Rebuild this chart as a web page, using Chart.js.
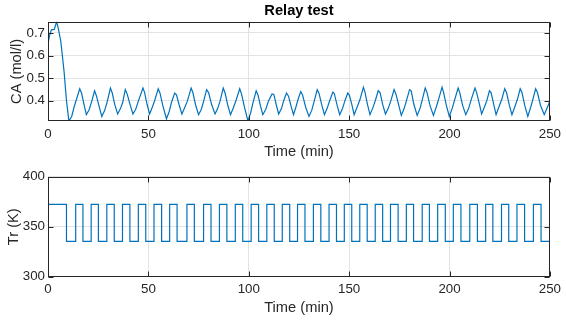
<!DOCTYPE html>
<html>
<head>
<meta charset="utf-8">
<script src="https://cdn.jsdelivr.net/npm/chart.js@4.4.0/dist/chart.umd.min.js"></script>
<style>
  html, body { margin: 0; padding: 0; background: #fff; }
  #wrap { position: relative; width: 566px; height: 324px; }
  canvas { position: absolute; left: 0; }
  #caChart { top: 0; }
  #trChart { top: 165px; }
</style>
</head>
<body>
<div id="wrap">
  <canvas id="caChart" width="566" height="165"></canvas>
  <canvas id="trChart" width="566" height="159"></canvas>
</div>
<script>
const timeTicks = [0, 50, 100, 150, 200, 250];
const caTicks = [0.4, 0.5, 0.6, 0.7];
const trTicks = [300, 350, 400];

// concentration samples, one relay cycle per line
const caTime = [
  0, 0.8, 1.7, 3.1, 4.3, 5.1, 6.4, 8.0, 9.2,
  10.4, 11.8, 13.0, 15.8, 16.7, 17.9,
  19.1, 20.5, 21.7, 23.2, 24.1, 25.3,
  26.8, 28.2, 29.4, 31.1, 32.0, 33.2,
  34.7, 36.1, 37.2, 38.5, 39.5, 40.8,
  42.3, 43.7, 45.0, 47.3, 48.1, 49.4,
  50.6, 51.9, 53.1, 54.9, 55.8, 57.2,
  59.0, 60.3, 61.5, 63.1, 64.0, 65.3,
  66.7, 68.0, 69.4, 71.3, 72.2, 73.5,
  75.0, 76.4, 77.6, 79.0, 80.0, 81.5,
  83.2, 84.5, 85.7, 87.3, 88.2, 89.5,
  90.9, 92.3, 93.6, 95.5, 96.4, 97.9,
  99.6, 100.9, 102.1, 103.7, 104.6, 105.8,
  107.0, 108.5, 109.8, 111.6, 112.5, 113.7,
  114.9, 116.3, 117.4, 118.8, 119.8, 121.1,
  122.3, 123.5, 124.7, 125.9, 126.8, 128.4,
  130.0, 131.4, 132.6, 134.1, 135.0, 136.4,
  137.7, 139.0, 140.3, 141.9, 142.6, 144.0,
  145.3, 146.7, 147.9, 149.3, 150.1, 151.3,
  152.5, 154.0, 155.4, 157.1, 157.9, 159.1,
  160.4, 161.8, 163.1, 164.5, 165.4, 166.8,
  168.1, 169.5, 170.8, 172.4, 173.3, 174.7,
  176.0, 177.4, 178.7, 180.1, 180.9, 182.3,
  183.9, 185.4, 186.6, 187.9, 188.8, 190.3,
  192.0, 193.4, 194.7, 196.3, 197.0, 198.4,
  199.9, 201.3, 202.6, 204.3, 205.1, 206.5,
  208.1, 209.5, 211.0, 212.7, 213.5, 214.9,
  216.0, 217.4, 218.6, 219.9, 220.7, 222.0,
  223.2, 224.6, 226.0, 227.5, 228.4, 229.8,
  231.1, 232.5, 233.8, 235.2, 236.1, 237.5,
  239.0, 240.4, 241.5, 242.9, 243.8, 245.3,
  247.2, 248.5, 250.0
];
const caValue = [
  0.652, 0.690, 0.714, 0.716, 0.750, 0.722, 0.662, 0.530, 0.400,
  0.310, 0.330, 0.372, 0.453, 0.434, 0.385,
  0.338, 0.360, 0.395, 0.444, 0.422, 0.380,
  0.330, 0.356, 0.392, 0.456, 0.434, 0.385,
  0.341, 0.365, 0.392, 0.449, 0.428, 0.385,
  0.341, 0.362, 0.398, 0.456, 0.437, 0.382,
  0.341, 0.370, 0.400, 0.453, 0.433, 0.378,
  0.320, 0.350, 0.392, 0.434, 0.426, 0.382,
  0.341, 0.368, 0.398, 0.456, 0.435, 0.382,
  0.338, 0.362, 0.400, 0.449, 0.436, 0.383,
  0.341, 0.365, 0.398, 0.456, 0.434, 0.382,
  0.338, 0.368, 0.400, 0.453, 0.430, 0.370,
  0.310, 0.345, 0.390, 0.444, 0.425, 0.378,
  0.338, 0.362, 0.398, 0.430, 0.428, 0.382,
  0.341, 0.365, 0.400, 0.434, 0.420, 0.375,
  0.338, 0.372, 0.410, 0.441, 0.425, 0.370,
  0.330, 0.358, 0.398, 0.449, 0.432, 0.380,
  0.338, 0.365, 0.400, 0.438, 0.432, 0.380,
  0.338, 0.365, 0.400, 0.434, 0.425, 0.385,
  0.338, 0.372, 0.405, 0.459, 0.438, 0.385,
  0.338, 0.368, 0.402, 0.444, 0.436, 0.380,
  0.341, 0.366, 0.400, 0.449, 0.430, 0.380,
  0.335, 0.365, 0.405, 0.449, 0.444, 0.382,
  0.335, 0.368, 0.410, 0.456, 0.436, 0.378,
  0.335, 0.372, 0.410, 0.460, 0.438, 0.380,
  0.330, 0.365, 0.405, 0.456, 0.436, 0.380,
  0.338, 0.365, 0.410, 0.456, 0.436, 0.385,
  0.341, 0.372, 0.400, 0.444, 0.436, 0.385,
  0.338, 0.372, 0.405, 0.453, 0.436, 0.380,
  0.338, 0.372, 0.405, 0.453, 0.436, 0.378,
  0.330, 0.370, 0.405, 0.453, 0.436, 0.380,
  0.338, 0.365, 0.398
];

// relay output: start value, then switching between the two levels
const trStart = 300;
const trHigh = 372.3;
const trLow = 335.3;
const trFallTimes = [
  9.2, 17.4, 25.1, 33.0, 40.8, 48.7, 56.6, 64.3, 72.9, 81.2,
  89.1, 97.0, 104.9, 112.7, 120.4, 128.0, 135.9, 143.7, 151.3, 159.0,
  166.7, 174.4, 182.1, 190.0, 197.9, 205.7, 213.9, 221.6, 229.5, 237.4,
  245.6
];
const trRiseTimes = [
  13.8, 21.5, 29.3, 37.1, 45.0, 52.8, 60.6, 69.2, 77.5, 85.4,
  93.3, 101.2, 109.0, 116.7, 124.3, 132.2, 140.0, 147.6, 155.3, 163.0,
  170.6, 178.5, 186.4, 194.1, 201.9, 210.1, 218.0, 225.9, 233.6, 241.8,
  249.7
];

const caPoints = caTime.map((t, i) => ({ x: t, y: caValue[i] }));

const trPoints = [{ x: 0, y: trStart }, { x: 0, y: trHigh }];
trFallTimes.forEach((tf, i) => {
  const tr = trRiseTimes[i];
  trPoints.push({ x: tf, y: trHigh }, { x: tf, y: trLow });
  trPoints.push({ x: tr, y: trLow }, { x: tr, y: trHigh });
});
trPoints.push({ x: 250, y: trHigh });

const FONT = "'Liberation Sans', Arial, sans-serif";
const INK = '#262626';
const GRID = '#e3e3e3';
const LINE = '#0072BD';

// frame around the plot area with inward tick marks
const axesBox = {
  id: 'axesBox',
  afterDraw(chart) {
    const { ctx, chartArea: a, scales } = chart;
    const L = Math.round(a.left) + 0.5, R = Math.round(a.right) - 0.5;
    const T = Math.round(a.top) + 0.5, B = Math.round(a.bottom) - 0.5;
    ctx.save();
    ctx.strokeStyle = INK;
    ctx.lineWidth = 1;
    ctx.strokeRect(L, T, R - L, B - T);
    ctx.beginPath();
    scales.x.ticks.forEach(tk => {
      const px = Math.round(scales.x.getPixelForValue(tk.value)) + 0.5;
      ctx.moveTo(px, B); ctx.lineTo(px, B - 5);
      ctx.moveTo(px, T); ctx.lineTo(px, T + 5);
    });
    scales.y.ticks.forEach(tk => {
      const py = Math.round(scales.y.getPixelForValue(tk.value)) + 0.5;
      ctx.moveTo(L, py); ctx.lineTo(L + 5, py);
      ctx.moveTo(R, py); ctx.lineTo(R - 5, py);
    });
    ctx.stroke();
    ctx.restore();
  }
};

function xScale(height, titlePad) {
  return {
    type: 'linear', min: 0, max: 250,
    afterBuildTicks: s => { s.ticks = timeTicks.map(v => ({ value: v })); },
    afterFit: s => { s.height = height; },
    grid: { color: GRID, lineWidth: 1, drawTicks: false },
    border: { display: false },
    ticks: { color: INK, font: { family: FONT, size: 13.33 }, padding: 5, maxRotation: 0 },
    title: { display: true, text: 'Time (min)', color: INK,
             font: { family: FONT, size: 14.67 }, padding: { top: 0, bottom: titlePad } }
  };
}

function yScale(min, max, tickVals, label, titlePad) {
  return {
    type: 'linear', min: min, max: max,
    afterBuildTicks: s => { s.ticks = tickVals.map(v => ({ value: v })); },
    afterFit: s => { s.width = 48; },
    grid: { color: GRID, lineWidth: 1, drawTicks: false },
    border: { display: false },
    ticks: { color: INK, font: { family: FONT, size: 13.33 }, padding: 3 },
    title: { display: true, text: label, color: INK,
             font: { family: FONT, size: 14.67 }, padding: { top: titlePad, bottom: 0 } }
  };
}

new Chart(document.getElementById('caChart'), {
  type: 'line',
  data: {
    datasets: [{
      data: caPoints,
      borderColor: LINE,
      borderWidth: 1.2,
      pointRadius: 0,
      tension: 0
    }]
  },
  options: {
    responsive: false,
    animation: false,
    layout: { padding: { left: 0, right: 11, top: 0, bottom: 0 } },
    plugins: {
      legend: { display: false },
      tooltip: { enabled: false },
      title: {
        display: true, text: 'Relay test', color: '#000', fullSize: false,
        font: { family: FONT, size: 14.67, weight: 'bold' },
        padding: { top: 2, bottom: 2.1 }
      }
    },
    scales: {
      x: xScale(44, 4.2),
      y: yScale(0.31, 0.75, caTicks, 'CA (mol/l)', 8.2)
    }
  },
  plugins: [axesBox]
});

new Chart(document.getElementById('trChart'), {
  type: 'line',
  data: {
    datasets: [{
      data: trPoints,
      borderColor: LINE,
      borderWidth: 1.2,
      pointRadius: 0,
      tension: 0
    }]
  },
  options: {
    responsive: false,
    animation: false,
    layout: { padding: { left: 0, right: 11, top: 11.7, bottom: 0 } },
    plugins: {
      legend: { display: false },
      tooltip: { enabled: false }
    },
    scales: {
      x: xScale(47.3, 7.7),
      y: yScale(300, 400, trTicks, 'Tr (K)', 5.4)
    }
  },
  plugins: [axesBox]
});
</script>
</body>
</html>
